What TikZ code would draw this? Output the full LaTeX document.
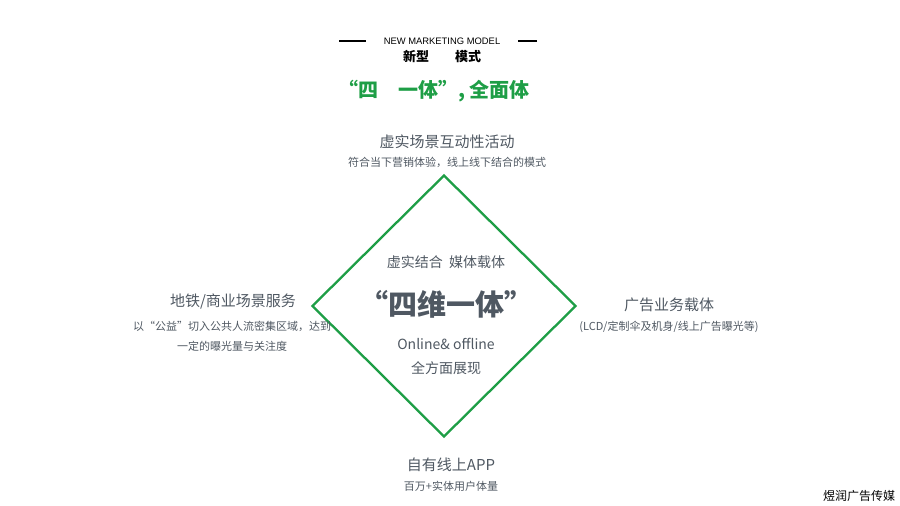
\documentclass[tikz,border=0pt]{standalone}
\usepackage{fontspec}
\setmainfont{Noto Sans CJK SC}
\newfontfamily\latinfont{Liberation Sans}
\usepackage{tikz}
\usetikzlibrary{positioning, shapes.geometric}
\definecolor{mkgreen}{HTML}{1E9E46}
\definecolor{mkgray}{HTML}{4F5862}

\begin{document}
\begin{tikzpicture}[
    x=1pt, y=-1pt,
    every node/.style={inner sep=0pt, text=mkgray},
    % Frame diamond
    framebox/.style={
      diamond, draw=mkgreen, line width=2.3pt,
      minimum width=264pt, minimum height=262pt, aspect=1
    },
    % Headings and notes
    headtext/.style={font=\fontsize{15}{18}\selectfont},
    subtext/.style={font=\fontsize{11}{20}\selectfont, align=center},
    % Header rule
    rulearr/.style={line width=2pt, black}
  ]

  \useasboundingbox (0,0) rectangle (900,506);

  % ============ Header ============
  \node[text=black, font=\latinfont\fontsize{9.4}{11}\selectfont] (model) at (442,41) {NEW MARKETING MODEL};
  \coordinate (ruleL) at (339,41);
  \coordinate (ruleR) at (537,41);
  \draw[rulearr] (ruleL) -- ++(27,0);
  \draw[rulearr] (ruleR) -- ++(-19,0);
  \node[text=black, font=\bfseries\fontsize{13}{15}\selectfont] (newtype) at (442,57) {新型\quad\quad 模式};
  \node[text=mkgreen, font=\bfseries\fontsize{20}{24}\selectfont] (slogan) at (434,91) {“四\quad 一体”, 全面体};

  % ============ Diamond ============
  \node[framebox] (frame) at (444,306) {};

  % ============ Centre text ============
  \node[font=\fontsize{14}{17}\selectfont] (virtual) at (446,262) {虚实结合\ \ 媒体载体};
  \node[font=\bfseries\fontsize{29}{34}\selectfont] (fourd) at (446,304) {“四维一体”};
  \node[font=\fontsize{14}{17}\selectfont, below=20pt of fourd] (online) {Online\& offline};
  \node[font=\fontsize{14}{17}\selectfont, below=11pt of online] (allround) {全方面展现};

  % ============ Top ============
  \node[headtext] (toptitle) at (447,142) {虚实场景互动性活动};
  \node[subtext, below=8pt of toptitle] (topnote) {符合当下营销体验，线上线下结合的模式};

  % ============ Left ============
  \node[headtext] (lefttitle) at (233,302) {地铁/商业场景服务};
  \node[subtext] (leftnote) at (232,336) {以“公益”切入公共人流密集区域，达到\\一定的曝光量与关注度};

  % ============ Right ============
  \node[headtext] (righttitle) at (669,305) {广告业务载体};
  \node[subtext, below=9pt of righttitle] (rightnote) {(LCD/定制伞及机身/线上广告曝光等)};

  % ============ Bottom ============
  \node[headtext] (bottitle) at (451,465) {自有线上APP};
  \node[subtext, below=9pt of bottitle] (botnote) {百万+实体用户体量};

  % ============ Brand ============
  \node[text=black, font=\fontsize{12}{14}\selectfont] (brand) at (859,496) {煜润广告传媒};

\end{tikzpicture}
\end{document}
